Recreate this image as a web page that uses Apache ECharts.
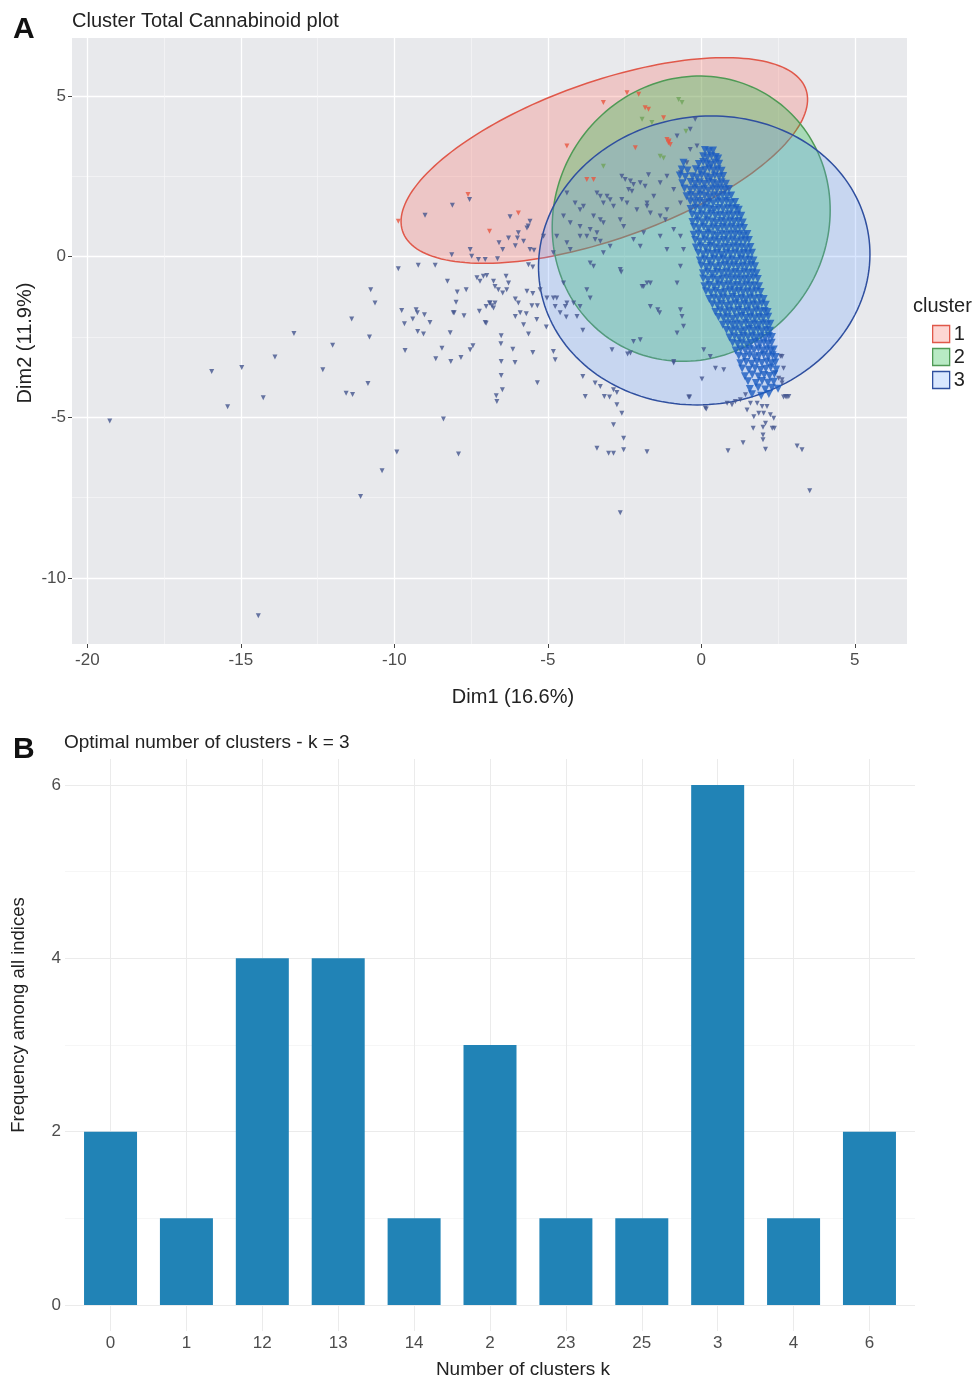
<!DOCTYPE html>
<html>
<head>
<meta charset="utf-8">
<script src="https://cdn.jsdelivr.net/npm/echarts@6/dist/echarts.min.js"></script>
<style>
  html, body { margin: 0; padding: 0; background: #fff; }
  #chart { width: 976px; height: 1381px; }
</style>
</head>
<body>
<div id="chart"></div>
<script>
// ---- panel A : cluster plot ----
const dim1Ticks = [-20, -15, -10, -5, 0, 5]
const dim1Minor = [-17.5, -12.5, -7.5, -2.5, 2.5]
const dim2Ticks = [-10, -5, 0, 5]
const dim2Minor = [-7.5, -2.5, 2.5]

// ellipse per cluster: center, semi axes, rotation (deg)
const clusterNames = ['1', '2', '3']
const ellipseCenter = [[-3.16, 2.99], [-0.33, 1.18], [0.095, -0.12]]
const ellipseAxes = [[6.93, 2.46], [4.62, 4.34], [5.41, 4.48]]
const ellipseAngle = [18.4, 35.5, 6.75]

const clusterOnePoints = [
  [-1.12, 3.64], [-1.07, 3.54], [-1.01, 3.49], [-1.05, 3.6], [-2.15, 3.39], [-4.38, 3.44],
  [-1.83, 4.63], [-1.72, 4.58], [-1.23, 4.32], [-2.42, 5.1], [-2.04, 5.05], [-3.19, 4.79],
  [-9.87, 1.1], [-3.73, 2.4], [-3.51, 2.4], [-5.96, 1.36], [-7.6, 1.93], [-6.9, 0.79]
]
const clusterTwoPoints = [
  [-0.74, 4.89], [-0.63, 4.79], [-1.93, 4.27], [-1.61, 4.17], [-1.34, 3.12], [-1.23, 3.07],
  [-3.19, 2.81], [-0.5, 3.9]
]
// dense band of cluster 3
const clusterThreeCore = [
  [0.12, 3.32], [0.25, 3.28], [0.38, 3.3],
  [0.06, 3.12], [0.2, 3.08], [0.33, 3.14], [0.47, 3.1], [0.55, 3.05],
  [-0.58, 2.92], [-0.08, 2.88], [0.06, 2.94], [0.19, 2.9], [0.31, 2.86], [0.44, 2.93], [0.58, 2.89],
  [-0.64, 2.71], [-0.45, 2.68], [-0.18, 2.72], [-0.03, 2.66], [0.12, 2.7], [0.26, 2.74], [0.4, 2.68], [0.53, 2.72], [0.66, 2.67],
  [-0.7, 2.52], [-0.52, 2.48], [-0.29, 2.5], [-0.14, 2.46], [0.01, 2.53], [0.16, 2.49], [0.3, 2.45], [0.44, 2.52], [0.58, 2.48], [0.71, 2.51],
  [-0.62, 2.28], [-0.35, 2.32], [-0.2, 2.27], [-0.05, 2.31], [0.1, 2.26], [0.24, 2.33], [0.38, 2.29], [0.52, 2.25], [0.66, 2.31], [0.8, 2.27],
  [-0.55, 2.12], [-0.36, 2.08], [-0.21, 2.13], [-0.06, 2.07], [0.09, 2.11], [0.23, 2.06], [0.37, 2.12], [0.51, 2.08], [0.65, 2.13], [0.78, 2.07], [0.9, 2.1],
  [-0.48, 1.88], [-0.34, 1.92], [-0.19, 1.87], [-0.04, 1.93], [0.11, 1.89], [0.26, 1.85], [0.4, 1.91], [0.55, 1.87], [0.69, 1.92], [0.83, 1.88], [0.97, 1.9],
  [-0.36, 1.72], [-0.2, 1.68], [-0.05, 1.73], [0.1, 1.67], [0.25, 1.71], [0.39, 1.66], [0.54, 1.72], [0.68, 1.69], [0.82, 1.73], [0.96, 1.67], [1.1, 1.7],
  [-0.35, 1.48], [-0.19, 1.52], [-0.03, 1.47], [0.12, 1.53], [0.27, 1.49], [0.42, 1.45], [0.56, 1.51], [0.71, 1.47], [0.85, 1.52], [0.99, 1.48], [1.13, 1.51], [1.22, 1.46],
  [-0.3, 1.31], [-0.14, 1.27], [0.01, 1.32], [0.16, 1.28], [0.31, 1.33], [0.46, 1.26], [0.6, 1.3], [0.75, 1.27], [0.89, 1.32], [1.03, 1.28], [1.17, 1.31], [1.3, 1.27],
  [-0.29, 1.08], [-0.12, 1.12], [0.04, 1.07], [0.19, 1.13], [0.34, 1.09], [0.49, 1.05], [0.64, 1.11], [0.78, 1.07], [0.93, 1.12], [1.07, 1.08], [1.21, 1.11], [1.35, 1.06],
  [-0.24, 0.92], [-0.08, 0.88], [0.08, 0.93], [0.23, 0.87], [0.38, 0.91], [0.53, 0.86], [0.68, 0.92], [0.82, 0.88], [0.97, 0.93], [1.11, 0.87], [1.25, 0.91], [1.39, 0.89],
  [-0.25, 0.68], [-0.09, 0.72], [0.07, 0.67], [0.22, 0.73], [0.37, 0.69], [0.52, 0.65], [0.67, 0.71], [0.82, 0.67], [0.96, 0.72], [1.11, 0.68], [1.25, 0.71], [1.38, 0.66], [1.5, 0.7],
  [-0.2, 0.52], [-0.04, 0.47], [0.12, 0.53], [0.27, 0.48], [0.42, 0.51], [0.57, 0.46], [0.72, 0.52], [0.86, 0.48], [1.01, 0.53], [1.15, 0.47], [1.29, 0.51], [1.43, 0.49], [1.55, 0.52],
  [-0.18, 0.28], [-0.02, 0.32], [0.14, 0.27], [0.29, 0.33], [0.44, 0.29], [0.59, 0.25], [0.74, 0.31], [0.89, 0.27], [1.03, 0.32], [1.18, 0.28], [1.32, 0.31], [1.46, 0.26], [1.6, 0.3],
  [-0.1, 0.12], [0.06, 0.07], [0.21, 0.13], [0.36, 0.08], [0.51, 0.11], [0.66, 0.06], [0.81, 0.12], [0.95, 0.08], [1.1, 0.13], [1.24, 0.07], [1.38, 0.11], [1.52, 0.09], [1.65, 0.12],
  [-0.05, -0.12], [0.11, -0.08], [0.26, -0.13], [0.41, -0.07], [0.56, -0.11], [0.71, -0.06], [0.86, -0.12], [1.0, -0.08], [1.15, -0.13], [1.29, -0.07], [1.43, -0.11], [1.57, -0.09], [1.7, -0.12],
  [0.0, -0.28], [0.16, -0.32], [0.31, -0.27], [0.46, -0.33], [0.61, -0.29], [0.76, -0.25], [0.91, -0.31], [1.05, -0.27], [1.2, -0.32], [1.34, -0.28], [1.48, -0.31], [1.62, -0.26], [1.75, -0.3],
  [0.05, -0.52], [0.21, -0.47], [0.36, -0.53], [0.51, -0.48], [0.66, -0.51], [0.81, -0.46], [0.96, -0.52], [1.1, -0.48], [1.25, -0.53], [1.39, -0.47], [1.53, -0.51], [1.67, -0.49], [1.8, -0.52],
  [0.06, -0.68], [0.22, -0.72], [0.38, -0.67], [0.53, -0.73], [0.68, -0.69], [0.83, -0.65], [0.98, -0.71], [1.12, -0.67], [1.27, -0.72], [1.41, -0.68], [1.55, -0.71], [1.69, -0.66], [1.84, -0.7],
  [0.1, -0.92], [0.26, -0.88], [0.42, -0.93], [0.57, -0.87], [0.72, -0.91], [0.87, -0.86], [1.02, -0.92], [1.16, -0.88], [1.31, -0.93], [1.45, -0.87], [1.59, -0.91], [1.73, -0.89], [1.88, -0.92],
  [0.15, -1.08], [0.31, -1.12], [0.47, -1.07], [0.62, -1.13], [0.77, -1.09], [0.92, -1.05], [1.07, -1.11], [1.21, -1.07], [1.36, -1.12], [1.5, -1.08], [1.64, -1.11], [1.78, -1.06], [1.93, -1.1],
  [0.26, -1.32], [0.42, -1.28], [0.57, -1.33], [0.72, -1.27], [0.87, -1.31], [1.02, -1.26], [1.16, -1.32], [1.31, -1.28], [1.45, -1.33], [1.59, -1.27], [1.73, -1.31], [1.88, -1.29], [2.03, -1.32],
  [0.36, -1.48], [0.52, -1.52], [0.67, -1.47], [0.82, -1.53], [0.97, -1.49], [1.12, -1.45], [1.26, -1.51], [1.41, -1.47], [1.55, -1.52], [1.69, -1.48], [1.83, -1.51], [1.97, -1.46], [2.1, -1.5],
  [0.46, -1.72], [0.62, -1.67], [0.77, -1.73], [0.92, -1.68], [1.07, -1.71], [1.21, -1.66], [1.36, -1.72], [1.5, -1.68], [1.65, -1.73], [1.79, -1.67], [1.93, -1.71], [2.06, -1.69], [2.16, -1.72],
  [0.56, -1.88], [0.72, -1.92], [0.87, -1.87], [1.02, -1.93], [1.17, -1.89], [1.31, -1.85], [1.46, -1.91], [1.6, -1.87], [1.74, -1.92], [1.88, -1.88], [2.02, -1.91], [2.18, -1.87],
  [0.7, -2.12], [0.86, -2.07], [1.01, -2.13], [1.16, -2.08], [1.3, -2.11], [1.45, -2.06], [1.59, -2.12], [1.73, -2.08], [1.87, -2.13], [2.01, -2.07], [2.14, -2.11], [2.25, -2.09],
  [0.82, -2.28], [0.98, -2.32], [1.13, -2.27], [1.28, -2.33], [1.42, -2.29], [1.56, -2.25], [1.7, -2.31], [1.84, -2.27], [1.98, -2.32], [2.12, -2.28], [2.24, -2.31],
  [0.92, -2.52], [1.08, -2.48], [1.23, -2.53], [1.38, -2.47], [1.52, -2.51], [1.66, -2.46], [1.8, -2.52], [1.94, -2.48], [2.08, -2.53], [2.2, -2.47], [2.3, -2.5],
  [1.02, -2.68], [1.18, -2.72], [1.33, -2.67], [1.48, -2.73], [1.62, -2.69], [1.76, -2.65], [1.9, -2.71], [2.04, -2.67], [2.17, -2.72], [2.29, -2.68],
  [1.12, -2.92], [1.28, -2.88], [1.43, -2.93], [1.58, -2.87], [1.72, -2.91], [1.86, -2.86], [2.0, -2.92], [2.14, -2.88], [2.27, -2.93], [2.36, -2.89],
  [1.22, -3.08], [1.4, -3.12], [1.57, -3.07], [1.73, -3.13], [1.88, -3.09], [2.03, -3.05], [2.18, -3.11], [2.32, -3.07], [2.42, -3.12],
  [1.27, -3.32], [1.46, -3.28], [1.64, -3.33], [1.81, -3.27], [1.97, -3.31], [2.13, -3.26], [2.28, -3.32], [2.41, -3.29],
  [1.33, -3.48], [1.55, -3.52], [1.75, -3.47], [1.93, -3.53], [2.1, -3.49], [2.26, -3.45], [2.44, -3.51],
  [1.42, -3.72], [1.66, -3.67], [1.86, -3.73], [2.05, -3.68], [2.22, -3.71], [2.38, -3.66],
  [1.52, -3.88], [1.78, -3.93], [1.98, -3.87], [2.17, -3.92], [2.36, -3.89],
  [1.58, -4.12], [1.85, -4.07], [2.08, -4.13], [2.3, -4.08], [2.5, -4.11],
  [1.65, -4.28], [1.95, -4.33], [2.2, -4.27]
]
// scattered cluster 3 points
const clusterThreeSpread = [
  [-19.27, -5.11], [-15.95, -3.57], [-14.97, -3.45], [-15.43, -4.67], [-14.27, -4.39], [-13.89, -3.12],
  [-13.27, -2.39], [-12.01, -2.76], [-12.33, -3.52], [-11.39, -1.94], [-10.81, -2.5], [-10.86, -3.95],
  [-11.57, -4.25], [-11.36, -4.29], [-10.63, -1.44], [-8.4, -5.05], [-9.92, -6.08], [-10.4, -6.66],
  [-11.1, -7.46], [-14.43, -11.17], [-7.91, -6.14], [-9.65, -2.92], [-9.67, -2.09], [-9.76, -1.68],
  [-9.29, -1.65], [-9.25, -1.75], [-9.4, -1.94], [-9.02, -1.81], [-8.84, -2.05], [-9.24, -2.33],
  [-9.05, -2.41], [-8.18, -2.37], [-8.45, -2.85], [-8.65, -3.18], [-8.16, -3.26], [-7.83, -3.14],
  [-7.53, -2.9], [-7.44, -2.77], [-8.08, -1.75], [-7.73, -1.84], [-7.99, -1.42], [-7.23, -1.7],
  [-7.01, -1.55], [-6.82, -1.53], [-6.9, -1.44], [-7.01, -2.07], [-6.68, -4.33], [-6.66, -4.51],
  [-9.0, 1.29], [-8.11, 1.6], [-7.55, 1.78], [-6.59, 0.43], [-8.13, 0.06], [-7.53, 0.22],
  [-7.48, 0.01], [-7.26, -0.09], [-7.04, -0.09], [-9.87, -0.38], [-9.22, -0.27], [-8.67, -0.27],
  [-8.27, -0.77], [-7.95, -1.1], [-7.66, -1.03], [-7.31, -0.66], [-7.1, -0.61], [-7.21, -0.77],
  [-10.77, -1.03], [-6.23, 1.24], [-5.58, 1.1], [-5.68, 0.89], [-5.64, 0.95], [-5.96, 0.74],
  [-5.99, 0.58], [-6.28, 0.58], [-6.06, 0.34], [-5.79, 0.48], [-6.47, 0.22], [-6.64, -0.07],
  [-5.58, 0.22], [-5.45, 0.2], [-5.14, 0.63], [-5.63, -0.25], [-5.49, -0.32], [-6.99, -0.59],
  [-6.77, -0.77], [-6.72, -0.93], [-6.36, -0.61], [-6.28, -0.82], [-6.34, -1.03], [-6.61, -1.03],
  [-6.47, -1.13], [-8.05, -1.75], [-6.88, -1.44], [-6.72, -1.44], [-6.77, -1.6], [-7.04, -2.05],
  [-6.06, -1.32], [-5.96, -1.44], [-5.68, -1.08], [-5.49, -1.15], [-5.7, -1.78], [-5.52, -1.53],
  [-5.34, -1.53], [-6.06, -1.86], [-5.79, -2.12], [-5.36, -1.96], [-6.52, -2.46], [-6.53, -2.71],
  [-6.14, -2.88], [-6.52, -3.26], [-6.07, -3.29], [-6.52, -3.7], [-6.48, -4.14], [-5.63, -2.41],
  [-5.49, -2.98], [-4.82, -2.95], [-5.34, -3.92], [-5.25, -1.03], [-5.9, -1.75], [-4.76, -1.55],
  [-4.6, -1.75], [-4.38, -1.44], [-4.05, -1.86], [-3.95, -1.55], [-3.73, -1.03], [-3.62, -1.29],
  [-4.76, -3.21], [-3.46, -3.93], [-3.29, -4.04], [-2.86, -5.23], [-2.53, -5.65], [-2.53, -6.01],
  [-2.86, -6.12], [-3.02, -6.12], [-3.4, -5.96], [-1.77, -6.07], [-3.78, -4.35], [-3.16, -4.35],
  [-2.99, -4.37], [-2.86, -4.14], [-2.75, -4.23], [-2.75, -4.61], [-2.59, -4.87], [-2.64, -7.97],
  [-5.03, -1.29], [-4.82, -1.29], [-4.71, -1.29], [-5.05, -2.19], [-4.43, -1.55], [-4.4, -1.88],
  [-3.86, -2.29], [-2.91, -2.9], [-2.4, -3.03], [-2.21, -2.64], [-1.99, -2.59], [-1.93, -0.93],
  [-1.66, -0.82], [-1.66, -1.55], [-1.42, -1.65], [-1.36, -1.75], [-2.61, -0.48], [-3.86, -3.73],
  [-4.38, 1.98], [-2.59, 2.5], [-2.48, 2.4], [-2.31, 2.35], [-2.21, 2.24], [-2.37, 2.09],
  [-2.26, 2.03], [-1.99, 2.3], [-1.83, 2.19], [-1.72, 2.55], [-3.4, 1.98], [-3.29, 1.88],
  [-3.07, 1.88], [-3.19, 1.67], [-2.97, 1.77], [-2.86, 1.57], [-4.11, 1.67], [-3.84, 1.57],
  [-2.59, 1.78], [-2.42, 1.67], [-2.1, 1.46], [-1.77, 1.57], [-1.66, 1.36], [-1.34, 1.26],
  [-1.17, 1.15], [-3.51, 1.26], [-3.29, 1.15], [-3.19, 1.05], [-2.64, 1.15], [-2.53, 0.94],
  [-3.95, 0.94], [-3.73, 0.63], [-3.4, 0.74], [-2.21, 0.53], [-1.88, 0.74], [-1.99, 0.32],
  [-2.97, 0.32], [-3.19, 0.12], [-3.95, 1.46], [-4.49, 1.26], [-4.27, 1.05], [-4.71, 0.63],
  [-4.38, 0.43], [-3.95, 0.63], [-3.62, 0.84], [-3.46, 0.53], [-3.29, 0.48], [-4.82, 0.12],
  [-4.27, 0.22], [-3.62, -0.2], [-3.51, -0.3], [-2.64, -0.4], [-4.49, -0.82], [-4.16, -1.44],
  [-1.88, -0.93], [-1.77, -0.82], [-0.68, -1.65], [-0.63, -1.86], [-0.58, -2.17], [-0.79, -0.82],
  [-0.68, -0.3], [-0.58, 0.22], [-2.31, -3.0], [-0.9, -3.31], [0.08, -2.9], [0.29, -3.11],
  [-0.68, 1.67], [-1.12, 1.46], [-0.9, 0.84], [-1.34, 0.63], [-1.12, 0.22], [-0.68, 0.63],
  [-1.34, 2.3], [-1.12, 2.5], [-0.9, 2.09], [-1.55, 1.88], [-1.77, 1.67], [-0.68, 2.61],
  [-0.47, 2.92], [-0.36, 3.33], [-0.14, 3.44], [-0.36, 3.96], [-0.2, 4.27], [-0.79, 3.75],
  [-0.79, -2.38], [-0.9, -3.26], [0.02, -3.81], [-0.41, -4.37], [0.13, -4.71], [0.46, -3.47],
  [0.73, -3.52], [0.84, -4.56], [1.0, -4.61], [1.11, -4.51], [1.27, -4.45], [1.44, -4.3],
  [2.63, -3.11], [2.68, -3.47], [2.41, -3.62], [2.52, -3.78], [2.63, -3.83], [2.74, -4.35],
  [2.85, -4.35], [1.49, -4.77], [1.6, -4.56], [1.82, -4.56], [1.71, -4.98], [1.87, -4.87],
  [1.98, -4.66], [2.03, -4.87], [2.14, -4.66], [2.25, -4.92], [2.36, -5.03], [2.09, -5.18],
  [2.01, -5.31], [1.69, -5.34], [2.31, -5.34], [2.01, -5.55], [2.01, -5.7], [2.09, -5.99],
  [2.38, -5.34], [1.36, -5.79], [0.87, -6.04], [2.68, -4.37], [2.79, -4.37], [3.12, -5.89],
  [3.28, -6.01], [3.53, -7.28], [0.16, -4.74], [-0.38, -4.37], [2.58, -3.1], [2.63, -3.93]
]

// ---- panel B : optimal number of clusters ----
const kLabels = ['0', '1', '12', '13', '14', '2', '23', '25', '3', '4', '6']
const kFreq = [2, 1, 4, 4, 1, 3, 1, 1, 6, 1, 2]
const kPositions = [0, 1, 2, 3, 4, 5, 6, 7, 8, 9, 10]
const freqTicks = [0, 2, 4, 6]
const freqMinor = [1, 3, 5]

const FONT = '"Liberation Sans", Arial, Helvetica, sans-serif'
const strokeCol = ['#e0584a', '#4f9a55', '#2f4f9f']
const fillCol = ['rgba(248,118,109,0.30)', 'rgba(20,186,60,0.30)', 'rgba(97,156,255,0.24)']

function ellipseSeries (i) {
  return {
    name: clusterNames[i],
    type: 'custom',
    xAxisIndex: 0,
    yAxisIndex: 0,
    encode: { x: 0, y: 1 },
    itemStyle: { color: fillCol[i], borderColor: strokeCol[i] },
    data: [[ellipseCenter[i][0], ellipseCenter[i][1], ellipseAxes[i][0], ellipseAxes[i][1], ellipseAngle[i]]],
    renderItem: function (params, api) {
      var cx = api.value(0), cy = api.value(1)
      var a = api.value(2), b = api.value(3)
      var ang = api.value(4) * Math.PI / 180
      var pts = []
      for (var k = 0; k < 180; k++) {
        var t = k / 180 * Math.PI * 2
        var x = cx + a * Math.cos(t) * Math.cos(ang) - b * Math.sin(t) * Math.sin(ang)
        var y = cy + a * Math.cos(t) * Math.sin(ang) + b * Math.sin(t) * Math.cos(ang)
        pts.push(api.coord([x, y]))
      }
      return {
        type: 'polygon',
        shape: { points: pts },
        style: { fill: fillCol[i], stroke: strokeCol[i], lineWidth: 1.5 }
      }
    }
  }
}

function pointSeries (name, data, color, size) {
  return {
    name: name,
    type: 'scatter',
    xAxisIndex: 0,
    yAxisIndex: 0,
    symbol: 'triangle',
    symbolRotate: 180,
    symbolSize: size,
    itemStyle: { color: color },
    data: data
  }
}

var tickLabel = { color: '#4d4d4d', fontSize: 17, fontFamily: FONT }

var option = {
  animation: false,
  backgroundColor: '#ffffff',
  textStyle: { fontFamily: FONT },
  grid: [
    { left: 72, right: 69, top: 38, bottom: 737, show: true, backgroundColor: '#e8e9ec', borderWidth: 0 },
    { left: 65, right: 61, top: 759, bottom: 50 }
  ],
  xAxis: [
    {
      type: 'value', gridIndex: 0, min: -20.5, max: 6.7,
      axisLine: { show: false, onZero: false },
      axisTick: { show: true, length: 4, customValues: dim1Ticks, lineStyle: { color: '#444' } },
      axisLabel: Object.assign({ customValues: dim1Ticks, margin: 8 }, tickLabel),
      splitLine: { show: true, lineStyle: { color: '#ffffff', width: 1.3 } }
    },
    {
      type: 'value', gridIndex: 0, min: -20.5, max: 6.7, position: 'top',
      axisLine: { show: false, onZero: false },
      axisTick: { show: false, customValues: dim1Minor },
      axisLabel: { show: false },
      splitLine: { show: true, lineStyle: { color: '#f6f6f8', width: 0.7 } }
    },
    {
      type: 'value', gridIndex: 1, min: -0.6, max: 10.6,
      axisLine: { show: false, onZero: false },
      axisTick: { show: false, customValues: kPositions },
      axisLabel: Object.assign({
        customValues: kPositions, margin: 4,
        formatter: function (v) { return kLabels[Math.round(v)] }
      }, tickLabel),
      splitLine: { show: true, lineStyle: { color: '#ebebeb', width: 1 } }
    }
  ],
  yAxis: [
    {
      type: 'value', gridIndex: 0, min: -12.05, max: 6.8,
      axisLine: { show: false, onZero: false },
      axisTick: { show: true, length: 4, customValues: dim2Ticks, lineStyle: { color: '#444' } },
      axisLabel: Object.assign({ customValues: dim2Ticks, margin: 6 }, tickLabel),
      splitLine: { show: true, lineStyle: { color: '#ffffff', width: 1.3 } }
    },
    {
      type: 'value', gridIndex: 0, min: -12.05, max: 6.8, position: 'right',
      axisLine: { show: false, onZero: false },
      axisTick: { show: false, customValues: dim2Minor },
      axisLabel: { show: false },
      splitLine: { show: true, lineStyle: { color: '#f6f6f8', width: 0.7 } }
    },
    {
      type: 'value', gridIndex: 1, min: -0.3, max: 6.3,
      axisLine: { show: false, onZero: false },
      axisTick: { show: false, customValues: freqTicks },
      axisLabel: Object.assign({ customValues: freqTicks, margin: 4 }, tickLabel),
      splitLine: { show: true, lineStyle: { color: '#ebebeb', width: 1 } }
    },
    {
      type: 'value', gridIndex: 1, min: -0.3, max: 6.3, position: 'right',
      axisLine: { show: false, onZero: false },
      axisTick: { show: false, customValues: freqMinor },
      axisLabel: { show: false },
      splitLine: { show: true, lineStyle: { color: '#f4f4f4', width: 0.8 } }
    }
  ],
  legend: {
    orient: 'vertical',
    left: 927,
    top: 319,
    itemWidth: 17,
    itemHeight: 17,
    itemGap: 3,
    icon: 'rect',
    selectedMode: false,
    textStyle: { fontSize: 20, color: '#222', fontFamily: FONT, padding: [0, 0, 0, -1] },
    data: clusterNames.map(function (n, i) {
      return { name: n, itemStyle: { color: fillCol[i], borderColor: strokeCol[i], borderWidth: 1.3 } }
    })
  },
  graphic: [
    { type: 'text', left: 13, top: 15, style: { text: 'A', font: 'bold 30px ' + FONT, fill: '#111' } },
    { type: 'text', left: 72, top: 11, style: { text: 'Cluster Total Cannabinoid plot', font: '20px ' + FONT, fill: '#222' } },
    { type: 'text', left: 913, top: 296, style: { text: 'cluster', font: '20px ' + FONT, fill: '#222' } },
    {
      type: 'text', x: 25, y: 343, rotation: Math.PI / 2,
      style: { text: 'Dim2 (11.9%)', font: '20px ' + FONT, fill: '#222', align: 'center', verticalAlign: 'middle' }
    },
    {
      type: 'text', x: 513, y: 697,
      style: { text: 'Dim1 (16.6%)', font: '20px ' + FONT, fill: '#222', align: 'center', verticalAlign: 'middle' }
    },
    { type: 'text', left: 13, top: 735, style: { text: 'B', font: 'bold 30px ' + FONT, fill: '#111' } },
    { type: 'text', left: 64, top: 733, style: { text: 'Optimal number of clusters - k = 3', font: '19px ' + FONT, fill: '#222' } },
    {
      type: 'text', x: 19, y: 1015, rotation: Math.PI / 2,
      style: { text: 'Frequency among all indices', font: '18.5px ' + FONT, fill: '#222', align: 'center', verticalAlign: 'middle' }
    },
    {
      type: 'text', x: 523, y: 1370,
      style: { text: 'Number of clusters k', font: '19px ' + FONT, fill: '#222', align: 'center', verticalAlign: 'middle' }
    }
  ],
  series: [
    ellipseSeries(0),
    ellipseSeries(1),
    ellipseSeries(2),
    pointSeries('3', clusterThreeSpread, '#44558f', 5),
    pointSeries('3', clusterThreeCore, '#1c5dc0', 8),
    pointSeries('1', clusterOnePoints, '#e8553f', 5),
    pointSeries('2', clusterTwoPoints, '#6fa35a', 5),
    {
      name: 'freq',
      type: 'bar',
      xAxisIndex: 2,
      yAxisIndex: 2,
      barWidth: 53,
      itemStyle: { color: '#2183b6' },
      data: kFreq.map(function (v, i) { return [kPositions[i], v] })
    }
  ]
}

var chart = echarts.init(document.getElementById('chart'), null, { renderer: 'canvas' })
chart.setOption(option)
</script>
</body>
</html>
